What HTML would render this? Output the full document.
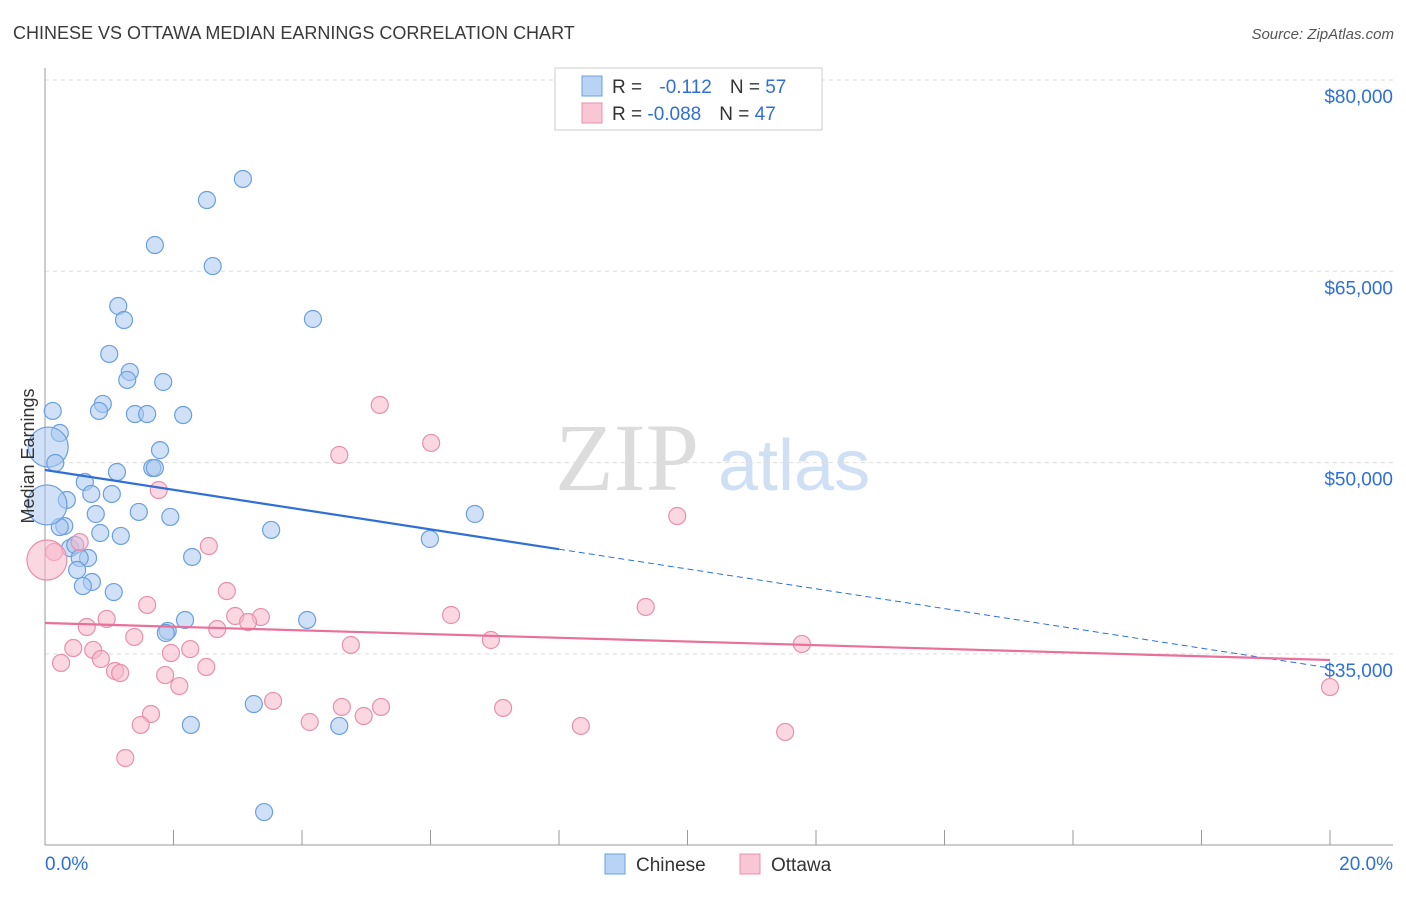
<!DOCTYPE html>
<html><head><meta charset="utf-8"><style>
body{margin:0;background:#fff;font-family:"Liberation Sans",sans-serif}
</style></head><body>
<svg id="chart" width="1406" height="892" xmlns="http://www.w3.org/2000/svg" font-family="Liberation Sans, sans-serif">
<text x="13" y="39" font-size="18" fill="#3a3a3a">CHINESE VS OTTAWA MEDIAN EARNINGS CORRELATION CHART</text>
<text x="1394" y="39" font-size="15" fill="#555" text-anchor="end" font-style="italic">Source: ZipAtlas.com</text>
<text x="555" y="490" font-size="96" fill="#dcdcdc" font-family="Liberation Serif, serif">ZIP</text>
<text x="718" y="490" font-size="72" fill="#cfe0f5">atlas</text>
<g id="grid"></g>
<g id="axes"></g>
<g id="marks"></g>
<text transform="translate(34,456) rotate(-90)" font-size="18" fill="#333" text-anchor="middle">Median Earnings</text>
<g>
<rect x="555" y="68" width="267" height="62" fill="#fff" stroke="#ccc"/>
<rect x="582" y="76" width="20" height="20" fill="#b9d3f5" stroke="#6a9fe0"/>
<rect x="582" y="103" width="20" height="20" fill="#f9c6d5" stroke="#e890ab"/>
<text x="612" y="93" font-size="19" fill="#333">R = <tspan fill="#2f6fd6" dx="12">-0.112</tspan><tspan fill="#333" dx="18">N = </tspan><tspan fill="#2f6fd6">57</tspan></text>
<text x="612" y="120" font-size="19" fill="#333">R = <tspan fill="#2f6fd6">-0.088</tspan><tspan fill="#333" dx="18">N = </tspan><tspan fill="#2f6fd6">47</tspan></text>
</g>
<g>
<rect x="605" y="854" width="20" height="20" fill="#b9d3f5" stroke="#6a9fe0"/>
<text x="636" y="871" font-size="19" fill="#333">Chinese</text>
<rect x="740" y="854" width="20" height="20" fill="#f9c6d5" stroke="#e890ab"/>
<text x="771" y="871" font-size="19" fill="#333">Ottawa</text>
</g>
</svg>
<script>
const yTicks=[80000,65000,50000,35000];
const yTickLabels=["$80,000","$65,000","$50,000","$35,000"];
const xTickLabels=["0.0%","20.0%"];
const chineseX=[3.08,2.52,1.71,2.61,1.14,1.23,4.17,1.00,1.32,1.28,1.84,0.12,0.90,0.84,1.40,1.59,2.15,0.23,0.05,1.79,0.16,1.67,1.71,1.12,0.62,0.72,1.04,0.34,0.79,1.46,1.95,6.69,0.30,0.23,3.52,0.86,1.18,5.99,0.39,0.47,0.67,2.29,0.54,0.50,0.73,0.59,1.07,2.18,4.08,1.91,1.88,3.25,2.27,4.58,3.41,0.03];
const chineseY=[72240,70590,67060,65410,62280,61180,61260,58520,57110,56480,56320,54050,54600,54050,53810,53810,53730,52320,51220,50980,49970,49580,49580,49260,48480,47540,47540,47070,45970,46130,45740,45970,45030,44950,44720,44480,44250,44010,43300,43540,42520,42600,42520,41580,40640,40320,39850,37660,37660,36800,36640,31070,29430,29350,22600,46680];
const ottawaX=[5.21,6.01,4.58,1.77,9.84,2.55,0.54,0.14,0.03,2.83,6.32,9.35,1.59,0.96,2.96,3.36,3.16,0.65,2.68,6.94,1.39,4.76,11.78,0.44,0.75,2.26,1.96,0.87,0.25,2.51,1.09,1.17,1.87,2.09,3.55,4.62,5.23,7.13,4.12,4.96,1.65,1.49,8.34,11.52,1.25,20.0];
const ottawaY=[54520,51540,50600,47850,45810,43460,43770,42990,42360,39930,38050,38680,38840,37740,37970,37890,37500,37110,36950,36090,36330,35700,35780,35460,35310,35380,35070,34600,34290,33970,33660,33500,33340,32480,31310,30840,30840,30760,29660,30130,30290,29430,29350,28880,26840,32400];
const chineseTrend=[49420,33895];
const ottawaTrend=[37423,34523];
const X=v=>45+v/20*1285;
const Y=v=>80+(80000-v)/15000*191.3;
const NS="http://www.w3.org/2000/svg";
function mk(t,a,p){const e=document.createElementNS(NS,t);for(const k in a)e.setAttribute(k,a[k]);p.appendChild(e);return e;}
const grid=document.getElementById('grid'),axes=document.getElementById('axes'),marks=document.getElementById('marks');
yTicks.forEach((v,i)=>{
 const l=mk('line',{x1:45,x2:1393,y1:Y(v),y2:Y(v),stroke:'#ddd','stroke-dasharray':'4,4'},grid);
 
 
 const t=mk('text',{x:1393,y:Y(v)+23,'font-size':19,fill:'#2f6fd6','text-anchor':'end'},grid);
 t.textContent=yTickLabels[i];
 
 
});
const ax=mk('line',{x1:45,x2:45,y1:68,y2:845,stroke:'#999'},axes);


const bx=mk('line',{x1:45,x2:1393,y1:845,y2:845,stroke:'#999'},axes);


for(let i=0;i<=10;i++){
 const tk=mk('line',{x1:X(i*2),x2:X(i*2),y1:830,y2:845,stroke:'#999'},axes);
 
 
}
[0,20].forEach((v,i)=>{
 const t=mk('text',{x:i?1393:45,y:870,'font-size':19,fill:'#2f6fd6','text-anchor':i?'end':'start'},axes);
 t.textContent=xTickLabels[i];
 
 
});
function pts(xs,ys,fill,stroke,name){
 xs.forEach((x,i)=>{
  const big=x<0.1;
  const c=mk('circle',{cx:X(x),cy:Y(ys[i]),r:big?20:8.5,fill:fill,'fill-opacity':0.55,stroke:stroke,'stroke-width':1.2},marks);
  
  
 });
}
pts(chineseX,chineseY,'#a9c8f0','#6a9fe0','chinese-point');
pts(ottawaX,ottawaY,'#f7b6ca','#e890ab','ottawa-point');
const xm=8;
const ym=chineseTrend[0]+(chineseTrend[1]-chineseTrend[0])*xm/20;
const l1=mk('line',{x1:X(0),y1:Y(chineseTrend[0]),x2:X(xm),y2:Y(ym),stroke:'#2f6fd6','stroke-width':2.2},marks);


const l2=mk('line',{x1:X(xm),y1:Y(ym),x2:X(20),y2:Y(chineseTrend[1]),stroke:'#2f6fd6','stroke-width':1,'stroke-dasharray':'6,4'},marks);


const l3=mk('line',{x1:X(0),y1:Y(ottawaTrend[0]),x2:X(20),y2:Y(ottawaTrend[1]),stroke:'#e8709a','stroke-width':2.2},marks);


</script>
</body></html>
